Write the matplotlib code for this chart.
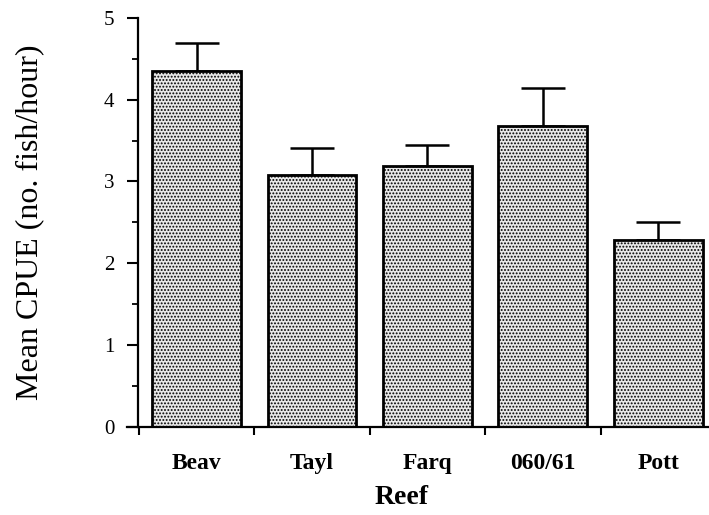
import matplotlib
matplotlib.use("Agg")
import matplotlib.pyplot as plt
import numpy as np

# data
reefs = ["Beav", "Tayl", "Farq", "060/61", "Pott"]
mean_cpue = [4.35, 3.08, 3.19, 3.68, 2.29]
upper_err = [0.35, 0.33, 0.26, 0.46, 0.22]

plt.rcParams['font.family'] = ['Liberation Serif', 'DejaVu Serif']
plt.rcParams['hatch.color'] = '#505050'
plt.rcParams['hatch.linewidth'] = 0.9

fig = plt.figure(figsize=(7.09, 5.15), dpi=100)
ax = fig.add_axes([138 / 709, (515 - 426.7) / 515, 571 / 709, 408.7 / 515])

x = np.arange(len(reefs))
ax.errorbar(x, mean_cpue, yerr=[np.zeros(len(x)), upper_err], fmt='none',
            ecolor='black', elinewidth=1.8, capsize=16, capthick=1.8, zorder=1)
ax.bar(x, mean_cpue, width=0.77, color='#e8e8e8', edgecolor='black',
       linewidth=2, hatch='.....', zorder=2)

ax.set_xlim(-0.507, 4.44)
ax.set_ylim(0, 5)

for s in ['top', 'right']:
    ax.spines[s].set_visible(False)
ax.spines['left'].set_linewidth(1.6)
ax.spines['bottom'].set_linewidth(1.6)
ax.spines['bottom'].set_bounds(-0.6, 4.44)

ax.set_yticks(range(6))
ax.set_yticks(np.arange(0.5, 5, 1), minor=True)
ax.tick_params(axis='y', which='major', direction='out', length=8, width=1.5,
               labelsize=15, pad=9)
ax.tick_params(axis='y', which='minor', direction='out', length=4, width=1.3)

ax.set_xticks(x - 0.5)
ax.set_xticklabels([])
ax.tick_params(axis='x', which='major', direction='out', length=6, width=1.5)
for i, name in enumerate(reefs):
    ax.text(i, -0.45, name, ha='center', va='center', fontsize=17,
            fontweight='bold')

fig.text(402 / 709, 1 - 497 / 515, "Reef", ha='center', va='center',
         fontsize=20, fontweight='bold')
fig.text(30 / 709, 1 - 222 / 515, "Mean CPUE (no. fish/hour)", ha='center',
         va='center', rotation=90, fontsize=23)

fig.savefig("out.png", dpi=100)
